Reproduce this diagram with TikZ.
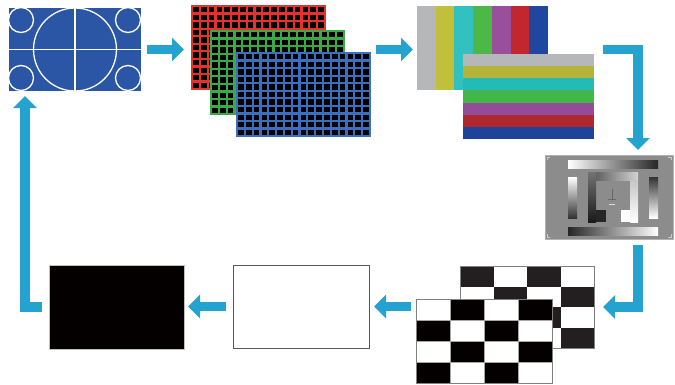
\documentclass[tikz,border=0pt]{standalone}
\usepackage{xcolor}
\usepackage{tikz}
\usetikzlibrary{calc}
\usetikzlibrary{arrows.meta}
\usetikzlibrary{positioning}
\definecolor{patblue}{HTML}{2A56A5}
\definecolor{flowblue}{HTML}{25A3D0}
\definecolor{gridred}{HTML}{E8302E}
\definecolor{gridgreen}{HTML}{3AAA48}
\definecolor{gridblue}{HTML}{3B6FC0}
\definecolor{vGray}{HTML}{B6B7B9}
\definecolor{vYellow}{HTML}{C2BF3A}
\definecolor{vCyan}{HTML}{33C0C1}
\definecolor{vGreen}{HTML}{4DB848}
\definecolor{vMagenta}{HTML}{9A4F9D}
\definecolor{vRed}{HTML}{C1272D}
\definecolor{vBlue}{HTML}{1F47A0}
\definecolor{hYellow}{HTML}{B4B33A}
\definecolor{hCyan}{HTML}{22BBB6}
\definecolor{hGreen}{HTML}{43B649}
\definecolor{hMagenta}{HTML}{944C9A}
\definecolor{hRed}{HTML}{B0282E}
\definecolor{hBlue}{HTML}{1F429A}
\definecolor{chartgray}{HTML}{8C8C8C}
\definecolor{checkdark}{HTML}{231F20}
\definecolor{darkbox}{HTML}{040000}
\tikzset{
  panel/.style={minimum width=133pt, minimum height=83pt, inner sep=0pt, outer sep=0pt, anchor=north west},
  flow/.style={draw=flowblue, line width=9.5pt, -{Triangle[width=23pt,length=12pt]}},
  thinwhite/.style={white, line width=1.3pt}
}

\begin{document}
\begin{tikzpicture} [x=1pt,y=-1pt]
\useasboundingbox (0,0) rectangle (675,384);
% circle pattern
\node[panel, fill=patblue, minimum width=132pt] (circ) at (9,8) {};
\begin{scope}
\clip (circ.south west) rectangle (circ.north east);
\draw[thinwhite] (circ.west) -- (circ.east) (circ.north) -- (circ.south);
\draw[thinwhite] (circ.center) circle (41.5pt);
\foreach \cx/\cy in {21/20, 128/20, 21/78, 128/78} {
 \draw[thinwhite] (\cx,\cy) circle (12.5pt);
};
\end{scope}
% rgb grids
\foreach \g/\gx/\gy/\gc in {R/192/6/gridred, G/211/31/gridgreen, B/237/53/gridblue} {
 \node[panel, fill=black, draw=\gc, line width=2.2pt] (grid\g) at (\gx,\gy) {};
 \foreach \i in {1,...,16} {\draw[\gc, line width=2.2pt] (\gx+\i*7.82,\gy) --++(0,83);};
 \foreach \j in {1,...,10} {\draw[\gc, line width=2.2pt] (\gx,\gy+\j*7.55) --++(133,0);};
};
% colour bars
\node[panel, minimum width=131pt, minimum height=84pt] (barsV) at (417,6) {};
\foreach \c [count=\i from 0] in {vGray,vYellow,vCyan,vGreen,vMagenta,vRed,vBlue} {
 \fill[\c] (417+\i*18.71,6) rectangle ++(18.71,84);
};
\node[panel, minimum width=131pt, minimum height=85pt] (barsH) at (463,54) {};
\foreach \c [count=\i from 0] in {vGray,hYellow,hCyan,hGreen,hMagenta,hRed,hBlue} {
 \fill[\c] (463,54+\i*12.14) rectangle ++(131,12.14);
};
% gray scale chart
\node[panel, fill=chartgray, draw=gray!60, line width=0.6pt, minimum width=128pt, minimum height=84pt] (chart) at (545,155) {};
\shade[left color=white, right color=black!85] (568,160) rectangle (658,168);
\shade[left color=black!85, right color=white] (568,227) rectangle (658,235);
\shade[top color=white, bottom color=black!80] (568,177) rectangle (577,218);
\shade[top color=black!80, bottom color=white] (649,177) rectangle (658,218);
\shade[left color=black!70, right color=gray!35] (588,172) rectangle (638,180);
\shade[top color=black!55, bottom color=black!90] (588,172) rectangle (596,222);
\fill[black!85] (596,210) rectangle (606,222);
\shade[top color=gray!45, bottom color=white] (630,180) rectangle (638,222);
\fill[white] (621,210) rectangle (630,222);
\draw[black!60, line width=0.8pt] (612,189) -- (612,199) (608,199) -- (616,199);
\draw[gray!30, line width=0.8pt] (609,204) -- (615,204);
\draw[gray!40, line width=0.5pt] (547,160) -- (547,157) -- (550,157) (671,160) -- (671,157) -- (668,157)
 (547,234) -- (547,237) -- (550,237) (671,234) -- (671,237) -- (668,237);
% checkerboards
\node[panel, minimum width=134pt, minimum height=82pt, fill=white, draw=gray, line width=0.7pt] (checkB) at (460,266) {};
\foreach \i in {0,...,3} {
 \foreach \j in {0,...,3} {
  \pgfmathtruncatemacro\s{\i+\j}
  \ifodd\s\else\fill[checkdark] (460+\i*33.5,266+\j*20.5) rectangle ++(33.5,20.5);\fi
 };
};
\draw[gray, line width=0.7pt] (checkB.north west) rectangle (checkB.south east);
\node[panel, minimum width=136pt, minimum height=84pt, fill=white] (checkF) at (416,299) {};
\foreach \i in {0,...,3} {
 \foreach \j in {0,...,3} {
  \pgfmathtruncatemacro\s{\i+\j}
  \ifodd\s\fill[darkbox] (416+\i*34,299+\j*21) rectangle ++(34,21);\fi
 };
};
\foreach \i in {1,2,3} {
 \draw[gray!70, line width=0.6pt] (416+\i*34,299) --++(0,84);
 \draw[gray!70, line width=0.6pt] (416,299+\i*21) --++(136,0);
};
\draw[gray, line width=0.7pt] (checkF.north west) rectangle (checkF.south east);
% blank screens
\node[panel, minimum width=136pt, minimum height=83pt, fill=white, draw=black!65, line width=0.8pt] (blank) at (233,265) {};
\node[panel, minimum width=135pt, minimum height=84pt, fill=darkbox, draw=gray!50, line width=0.5pt] (dark) at (49,265) {};
% flow arrows
\draw[flow, shorten <=6pt, shorten >=8pt] (circ.east) -- (circ.east -| gridR.west);
\draw[flow, shorten <=6pt, shorten >=4pt] (gridB.east |- circ.east) -- (barsV.west |- circ.east);
\draw[flow, shorten >=5pt] ([xshift=9pt]barsH.east |- circ.east) -| ([xshift=29pt]chart.north);
\draw[flow, shorten <=6pt, shorten >=9pt] ([xshift=29pt]chart.south) |- (checkB.east);
\draw[flow, shorten <=5pt, shorten >=5pt] (blank.east -| checkF.west) -- (blank.east);
\draw[flow, shorten <=7pt, shorten >=4pt] (blank.west) -- (dark.east |- blank.west);
\draw[flow, shorten <=7pt, shorten >=5pt] (dark.west) -| ([xshift=-50pt]circ.south);
\end{tikzpicture}
\end{document}
